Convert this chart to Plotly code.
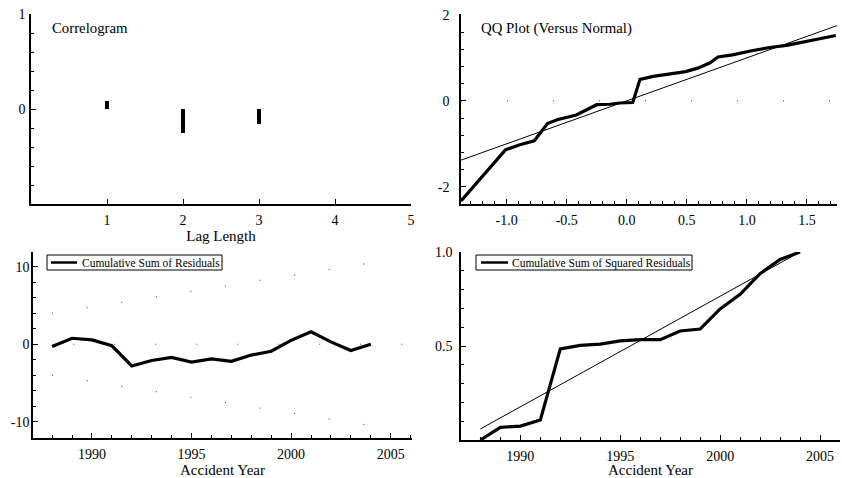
import plotly.graph_objects as go

FONT = "Liberation Serif"

# --- Correlogram ---
lags = [1, 2, 3]
acf = [0.08, -0.25, -0.16]

# --- QQ plot ---
qq_theoretical = [-1.38, -1.01, -0.89, -0.77, -0.66, -0.58, -0.42, -0.25, -0.14, -0.06,
                  0.05, 0.11, 0.22, 0.38, 0.49, 0.59, 0.69, 0.76, 0.88, 1.05, 1.19, 1.33, 1.74]
qq_sample = [-2.33, -1.14, -1.02, -0.93, -0.53, -0.44, -0.33, -0.09, -0.08, -0.05,
             -0.04, 0.50, 0.57, 0.63, 0.68, 0.76, 0.88, 1.02, 1.07, 1.17, 1.24, 1.29, 1.52]
qq_ref_x = [-1.38, 1.75]
qq_ref_y = [-1.38, 1.75]
qq_xticks = [-1.0, -0.5, 0.0, 0.5, 1.0, 1.5]
qq_xticklabels = ["-1.0", "-0.5", "0.0", "0.5", "1.0", "1.5"]
qq_yticks = [-2, 0, 2]
qq_yticklabels = ["-2", "0", "2"]

# --- CUSUM ---
years = list(range(1988, 2005))
cusum = [-0.3, 0.77, 0.56, -0.2, -2.8, -2.1, -1.7, -2.3, -1.9, -2.2,
         -1.4, -0.9, 0.5, 1.6, 0.3, -0.8, 0.0]
bound_years = [1988, 2004]
bound_upper = [4.0, 10.5]
bound_lower = [-4.0, -10.5]
cusum_yticks = [-10, 0, 10]
cusum_yticklabels = ["-10", "0", "10"]

# --- CUSUM of squares ---
cusumsq = [0.0, 0.067, 0.074, 0.106, 0.485, 0.503, 0.51, 0.527, 0.534, 0.534,
           0.58, 0.59, 0.697, 0.775, 0.885, 0.96, 1.0]
cusumsq_ref = [(i + 1) / 17 for i in range(17)]

legend_labels = ["Cumulative Sum of Residuals", "Cumulative Sum of Squared Residuals"]

fig = go.Figure()

# Correlogram bars
fig.add_trace(go.Bar(x=lags, y=acf, width=0.05, marker=dict(color="black", line=dict(width=0)),
                     showlegend=False, xaxis="x", yaxis="y"))

# QQ
fig.add_trace(go.Scatter(x=qq_ref_x, y=[0, 0], mode="lines", showlegend=False,
                         line=dict(color="#555", width=1.2, dash="1px,45px"), xaxis="x2", yaxis="y2"))
fig.add_trace(go.Scatter(x=qq_ref_x, y=qq_ref_y, mode="lines", showlegend=False,
                         line=dict(color="black", width=1), xaxis="x2", yaxis="y2"))
fig.add_trace(go.Scatter(x=qq_theoretical, y=qq_sample, mode="lines", showlegend=False,
                         line=dict(color="black", width=3.2), xaxis="x2", yaxis="y2"))

# CUSUM
fig.add_trace(go.Scatter(x=bound_years, y=bound_upper, mode="lines", showlegend=False,
                         line=dict(color="#555", width=1.2, dash="1px,34px"), xaxis="x3", yaxis="y3"))
fig.add_trace(go.Scatter(x=bound_years, y=bound_lower, mode="lines", showlegend=False,
                         line=dict(color="#555", width=1.2, dash="1px,34px"), xaxis="x3", yaxis="y3"))
fig.add_trace(go.Scatter(x=[1987, 2006.1], y=[0, 0], mode="lines", showlegend=False,
                         line=dict(color="#555", width=1.2, dash="1px,40px"), xaxis="x3", yaxis="y3"))
fig.add_trace(go.Scatter(x=years, y=cusum, mode="lines", name=legend_labels[0], showlegend=False,
                         line=dict(color="black", width=3.2), xaxis="x3", yaxis="y3"))

# CUSUM of squares
fig.add_trace(go.Scatter(x=years, y=cusumsq_ref, mode="lines", showlegend=False,
                         line=dict(color="black", width=1), xaxis="x4", yaxis="y4"))
fig.add_trace(go.Scatter(x=years, y=cusumsq, mode="lines", name=legend_labels[1], showlegend=False,
                         line=dict(color="black", width=3.2), xaxis="x4", yaxis="y4"))

W, H = 842, 478


def px(v):
    return v / W


def py(v):
    return 1 - v / H


def dx(a, b):
    return [a / W, b / W]


def dy(top, bottom):
    return [1 - bottom / H, 1 - top / H]


common = dict(showline=True, linecolor="black", linewidth=1.5, ticks="inside", ticklen=5,
              tickcolor="black", showgrid=False, zeroline=False, automargin=False,
              tickfont=dict(family=FONT, size=14, color="black"))
minor = lambda d, t0=0: dict(dtick=d, tick0=t0, ticks="inside", ticklen=3, tickcolor="black")
xtitle = lambda t: dict(text=t, font=dict(family=FONT, size=15, color="black"), standoff=2)

# Legend boxes (drawn as shapes + text)
legend_boxes = [(47, 222, 255, 270, 51, 77, 80), (476, 692, 255, 270, 481, 508, 510)]
shapes = []
annotations = []
for (x0, x1, y0, y1, l0, l1, tx), label in zip(legend_boxes, legend_labels):
    shapes.append(dict(type="rect", xref="paper", yref="paper", x0=px(x0), x1=px(x1),
                       y0=py(y1), y1=py(y0), line=dict(color="black", width=1), fillcolor="white",
                       layer="above"))
    ym = (y0 + y1) / 2
    shapes.append(dict(type="line", xref="paper", yref="paper", x0=px(l0), x1=px(l1),
                       y0=py(ym), y1=py(ym), line=dict(color="black", width=2.5), layer="above"))
    annotations.append(dict(text=label, x=px(tx), y=py(ym + 0.5), xref="paper", yref="paper",
                            xanchor="left", yanchor="middle", showarrow=False,
                            font=dict(family=FONT, size=11.5, color="black")))

annotations += [
    dict(text="Correlogram", x=px(50), y=py(28), xref="paper", yref="paper",
         xanchor="left", yanchor="middle", showarrow=False, font=dict(family=FONT, size=14.8)),
    dict(text="QQ Plot (Versus Normal)", x=px(479), y=py(28), xref="paper", yref="paper",
         xanchor="left", yanchor="middle", showarrow=False, font=dict(family=FONT, size=14.8)),
]

fig.update_layout(
    width=W, height=H, margin=dict(l=0, r=0, t=0, b=0),
    paper_bgcolor="white", plot_bgcolor="white",
    font=dict(family=FONT, color="black"),
    bargap=0, showlegend=False,
    xaxis=dict(domain=dx(31, 411), range=[0, 5], tickvals=[1, 2, 3, 4, 5], anchor="y",
               title=xtitle("Lag Length"), ticklabelstandoff=2, **common),
    yaxis=dict(domain=dy(14, 204), range=[-1, 1], tickvals=[-1, 0, 1], ticktext=["", "0", "1"],
               anchor="x", minor=minor(0.2), ticklabelstandoff=1, **common),
    xaxis2=dict(domain=dx(461, 837), range=[-1.38, 1.75], tickvals=qq_xticks, ticktext=qq_xticklabels,
                anchor="y2", minor=minor(0.1), ticklabelstandoff=2, **common),
    yaxis2=dict(domain=dy(14, 204), range=[-2.4, 2.02], tickvals=qq_yticks, ticktext=qq_yticklabels,
                anchor="x2", minor=minor(0.4), ticklabelstandoff=7, **common),
    xaxis3=dict(domain=dx(33, 412), range=[1987.04, 2006.07], tick0=1990, dtick=5, anchor="y3",
                title=xtitle("Accident Year"), minor=minor(1, 1990), ticklabelstandoff=2, **common),
    yaxis3=dict(domain=dy(252, 438), range=[-12.1, 11.9], tickvals=cusum_yticks, ticktext=cusum_yticklabels,
                anchor="x3", minor=minor(2), ticklabelstandoff=-1, **common),
    xaxis4=dict(domain=dx(461, 840), range=[1987.03, 2006], tick0=1990, dtick=5, anchor="y4",
                title=xtitle("Accident Year"), minor=minor(1, 1990), ticklabelstandoff=2, **common),
    yaxis4=dict(domain=dy(252, 440), range=[0, 1.0], tickvals=[0.5, 1.0], tickformat=".1f", anchor="x4",
                minor=minor(0.1), ticklabelstandoff=4, **common),
    shapes=shapes,
    annotations=annotations,
)

fig.write_html("out.html", config={"displayModeBar": False},
               post_script="document.body.style.margin='0';document.body.style.overflow='hidden';")
